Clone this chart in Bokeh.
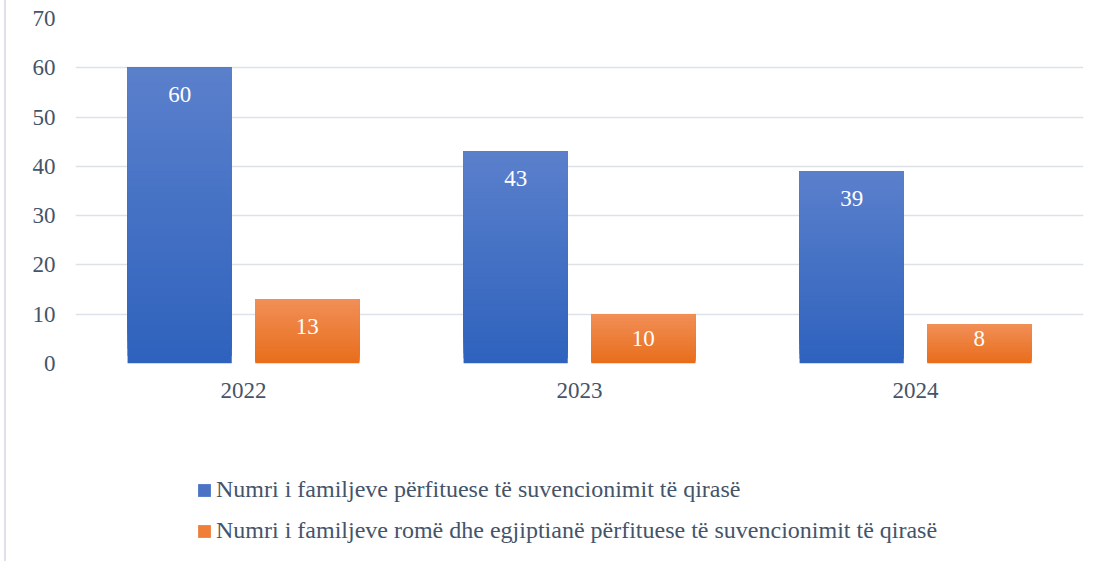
from bokeh.plotting import figure
from bokeh.layouts import column
from bokeh.models import (ColumnDataSource, FactorRange, Range1d, LabelSet, Legend, LegendItem)
from bokeh.transform import dodge
from bokeh.embed import file_html
from bokeh.resources import INLINE
from bokeh.core.properties import value

years = ["2022", "2023", "2024"]
familje = [60, 43, 39]
familje_re = [13, 10, 8]
series_names = [
    "Numri i familjeve përfituese të suvencionimit të qirasë",
    "Numri i familjeve romë dhe egjiptianë përfituese të suvencionimit të qirasë",
]
y_ticks = [0, 10, 20, 30, 40, 50, 60, 70]

FONT = "Liberation Serif"
TEXT_COLOR = "#44546A"
BLUE_TOP, BLUE_BOTTOM = "#5B80CC", "#2E62BD"
ORANGE_TOP, ORANGE_BOTTOM = "#F18F57", "#E86D1B"
BLUE_LEG, ORANGE_LEG = "#4A73C6", "#EE7E38"

SHIFT = 6  # width taken by the chart-area border on the left

p = figure(width=1108 - SHIFT, height=420, x_range=FactorRange(*years), y_range=Range1d(0, 70),
           output_backend="svg", toolbar_location=None,
           min_border_left=75 - SHIFT, min_border_right=25, min_border_top=18, min_border_bottom=57)
p.outline_line_color = None
p.background_fill_color = "white"
p.border_fill_color = "white"


def hex2rgb(h):
    h = h.lstrip("#")
    return tuple(int(h[i:i + 2], 16) for i in (0, 2, 4))


def mix(c1, c2, t):
    a, b = hex2rgb(c1), hex2rgb(c2)
    return "#%02x%02x%02x" % tuple(round(a[i] + (b[i] - a[i]) * t) for i in range(3))


N = 40


def gradient_source(vals, top_c, bot_c):
    # each layer runs from a fraction of the bar up to its top; later layers overlay earlier
    xs, bots, tops, cols = [], [], [], []
    for i in range(N):
        for yr, v in zip(years, vals):
            xs.append(yr)
            bots.append(v * i / N)
            tops.append(v)
            cols.append(mix(bot_c, top_c, (i + 0.5) / N))
    return ColumnDataSource(dict(x=xs, bottom=bots, top=tops, color=cols))


BAR_W = 0.31
OFF = 0.19
src_b = gradient_source(familje, BLUE_TOP, BLUE_BOTTOM)
src_o = gradient_source(familje_re, ORANGE_TOP, ORANGE_BOTTOM)
p.vbar(x=dodge("x", -OFF, range=p.x_range), bottom="bottom", top="top", width=BAR_W,
       source=src_b, fill_color="color", line_color=None)
p.vbar(x=dodge("x", OFF, range=p.x_range), bottom="bottom", top="top", width=BAR_W,
       source=src_o, fill_color="color", line_color=None)

# data labels ("inside end", kept clear of the base for short bars)
PX_PER_UNIT = (363 - 18) / 70.0
INSET = 27 / PX_PER_UNIT
FLOOR = 25 / PX_PER_UNIT
lab = ColumnDataSource(dict(
    x=years,
    b=[max(v - INSET, FLOOR) for v in familje],
    o=[max(v - INSET, FLOOR) for v in familje_re],
    bt=[str(v) for v in familje], ot=[str(v) for v in familje_re]))
for col, txt, off in (("b", "bt", -OFF), ("o", "ot", OFF)):
    p.add_layout(LabelSet(x=dodge("x", off, range=p.x_range), y=col, text=txt, source=lab,
                          text_align="center", text_baseline="middle",
                          text_color="white", text_font=value(FONT), text_font_size="23px"))

# axes
p.yaxis.ticker = y_ticks
for ax in (p.xaxis, p.yaxis):
    ax.axis_line_color = None
    ax.major_tick_line_color = None
    ax.minor_tick_line_color = None
    ax.major_tick_out = 0
    ax.major_tick_in = 0
    ax.major_label_text_font = FONT
    ax.major_label_text_font_size = "23px"
    ax.major_label_text_color = TEXT_COLOR
p.yaxis.major_label_standoff = 20
p.xaxis.major_label_standoff = 19

p.xgrid.grid_line_color = None
p.ygrid.grid_line_color = "#DDE2E8"
p.ygrid.grid_line_width = 1.6

# legend panel
p2 = figure(width=1108 - SHIFT, height=141, x_range=Range1d(0, 1), y_range=Range1d(0, 1),
            output_backend="svg", toolbar_location=None,
            x_axis_location=None, y_axis_location=None,
            min_border_left=0, min_border_right=0, min_border_top=0, min_border_bottom=0)
p2.outline_line_color = None
p2.xgrid.grid_line_color = None
p2.ygrid.grid_line_color = None
leg_b = p2.vbar(x=list(range(len(years))), top=familje, width=0.1,
                fill_color=BLUE_LEG, line_color=None, visible=False)
leg_o = p2.vbar(x=list(range(len(years))), top=familje_re, width=0.1,
                fill_color=ORANGE_LEG, line_color=None, visible=False)
legend = Legend(items=[LegendItem(label=series_names[0], renderers=[leg_b], index=0),
                       LegendItem(label=series_names[1], renderers=[leg_o], index=0)],
                location=(121, 17), orientation="vertical",
                glyph_width=16, glyph_height=16, label_standoff=4,
                label_text_font=FONT, label_text_font_size="24px", label_text_color=TEXT_COLOR,
                label_height=26, spacing=14, padding=0, margin=0,
                border_line_color=None, background_fill_alpha=0)
p2.add_layout(legend, "center")

layout = column(p, p2, spacing=0,
                styles={"border-left": "2px solid #DEE2E8", "margin-left": "4px"})
open("out.html", "w").write(file_html(layout, INLINE))
